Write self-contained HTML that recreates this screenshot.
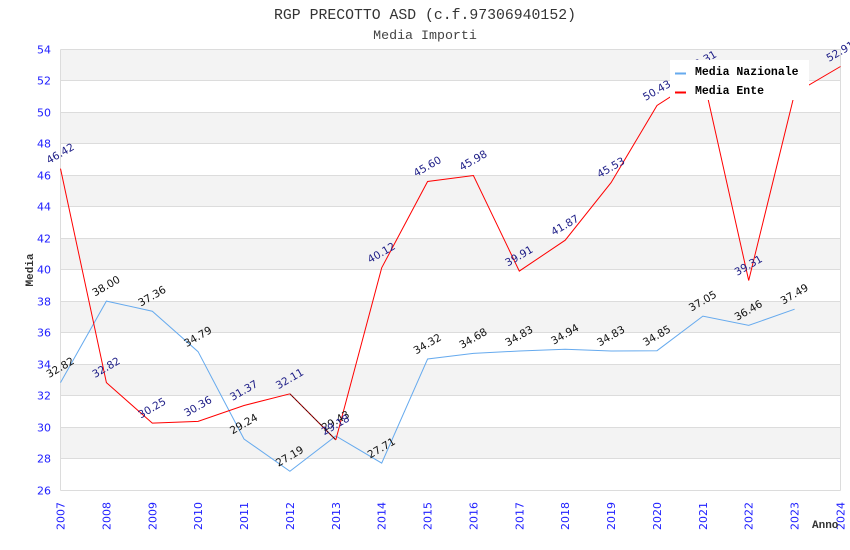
<!DOCTYPE html>
<html><head><meta charset="utf-8">
<style>
html,body{margin:0;padding:0;background:#fff;}
svg{display:block;}
.tk{font-family:"DejaVu Sans","Liberation Sans",sans-serif;font-size:11px;fill:#2020ff;}
.ln{font-family:"DejaVu Sans","Liberation Sans",sans-serif;font-size:10.5px;fill:#111;}
.le{font-family:"DejaVu Sans","Liberation Sans",sans-serif;font-size:10.5px;fill:#1c1c86;}
.mono{font-family:"Liberation Mono","DejaVu Sans Mono",monospace;}
</style></head>
<body>
<svg width="850" height="550" viewBox="0 0 850 550" xmlns="http://www.w3.org/2000/svg">
<rect width="850" height="550" fill="#fff"/>
<text x="425" y="19" text-anchor="middle" class="mono" font-size="14.8" fill="#333">RGP PRECOTTO ASD (c.f.97306940152)</text>
<text x="425" y="39" text-anchor="middle" class="mono" font-size="13.3" fill="#444">Media Importi</text>

<g fill="#f3f3f3">
<rect x="60.5" y="49.5" width="780" height="31"/>
<rect x="60.5" y="112.5" width="780" height="31"/>
<rect x="60.5" y="175.5" width="780" height="31"/>
<rect x="60.5" y="238.5" width="780" height="31"/>
<rect x="60.5" y="301.5" width="780" height="31"/>
<rect x="60.5" y="364.5" width="780" height="31"/>
<rect x="60.5" y="427.5" width="780" height="31"/>
</g>
<g stroke="#dcdcdc" stroke-width="1" shape-rendering="crispEdges">
<line x1="60.5" x2="840.5" y1="49.5" y2="49.5"/>
<line x1="60.5" x2="840.5" y1="80.5" y2="80.5"/>
<line x1="60.5" x2="840.5" y1="112.5" y2="112.5"/>
<line x1="60.5" x2="840.5" y1="143.5" y2="143.5"/>
<line x1="60.5" x2="840.5" y1="175.5" y2="175.5"/>
<line x1="60.5" x2="840.5" y1="206.5" y2="206.5"/>
<line x1="60.5" x2="840.5" y1="238.5" y2="238.5"/>
<line x1="60.5" x2="840.5" y1="269.5" y2="269.5"/>
<line x1="60.5" x2="840.5" y1="301.5" y2="301.5"/>
<line x1="60.5" x2="840.5" y1="332.5" y2="332.5"/>
<line x1="60.5" x2="840.5" y1="364.5" y2="364.5"/>
<line x1="60.5" x2="840.5" y1="395.5" y2="395.5"/>
<line x1="60.5" x2="840.5" y1="427.5" y2="427.5"/>
<line x1="60.5" x2="840.5" y1="458.5" y2="458.5"/>
<line x1="60.5" x2="840.5" y1="490.5" y2="490.5"/>
<line x1="60.5" x2="60.5" y1="49.5" y2="490.5"/>
<line x1="840.5" x2="840.5" y1="49.5" y2="490.5"/>
</g>

<g class="tk" text-anchor="end">
<text x="51" y="53.5">54</text>
<text x="51" y="84.5">52</text>
<text x="51" y="116.5">50</text>
<text x="51" y="147.5">48</text>
<text x="51" y="179.5">46</text>
<text x="51" y="210.5">44</text>
<text x="51" y="242.5">42</text>
<text x="51" y="273.5">40</text>
<text x="51" y="305.5">38</text>
<text x="51" y="336.5">36</text>
<text x="51" y="368.5">34</text>
<text x="51" y="399.5">32</text>
<text x="51" y="431.5">30</text>
<text x="51" y="462.5">28</text>
<text x="51" y="494.5">26</text>
</g>

<g class="tk" text-anchor="end">
<text transform="translate(64.5,502) rotate(-90)">2007</text>
<text transform="translate(110.4,502) rotate(-90)">2008</text>
<text transform="translate(156.3,502) rotate(-90)">2009</text>
<text transform="translate(202.1,502) rotate(-90)">2010</text>
<text transform="translate(248,502) rotate(-90)">2011</text>
<text transform="translate(293.9,502) rotate(-90)">2012</text>
<text transform="translate(339.8,502) rotate(-90)">2013</text>
<text transform="translate(385.7,502) rotate(-90)">2014</text>
<text transform="translate(431.6,502) rotate(-90)">2015</text>
<text transform="translate(477.4,502) rotate(-90)">2016</text>
<text transform="translate(523.3,502) rotate(-90)">2017</text>
<text transform="translate(569.2,502) rotate(-90)">2018</text>
<text transform="translate(615.1,502) rotate(-90)">2019</text>
<text transform="translate(661,502) rotate(-90)">2020</text>
<text transform="translate(706.9,502) rotate(-90)">2021</text>
<text transform="translate(752.7,502) rotate(-90)">2022</text>
<text transform="translate(798.6,502) rotate(-90)">2023</text>
<text transform="translate(844.5,502) rotate(-90)">2024</text>
</g>

<text transform="translate(33,270) rotate(-90)" text-anchor="middle" class="mono" font-size="11" font-weight="bold" fill="#333">Media</text>
<text x="812" y="528" class="mono" font-size="11" font-weight="bold" fill="#333">Anno</text>

<polyline fill="none" stroke="#66aaee" stroke-width="1" points="60.5,382.6 106.4,301.1 152.3,311.2 198.1,351.7 244,439 289.9,471.3 335.8,436 381.7,463.1 427.6,359 473.4,353.4 519.3,351 565.2,349.3 611.1,351 657,350.7 702.9,316.1 748.7,325.4 794.6,309.2"/>

<polyline fill="none" stroke="#ff0000" stroke-width="1" points="60.5,168.6 106.4,382.6 152.3,423.1 198.1,421.4 244,405.5 289.9,393.8"/>
<line x1="289.9" y1="393.8" x2="335.8" y2="439.9" stroke="#000" stroke-width="1"/>
<line x1="289.9" y1="393.8" x2="335.8" y2="439.9" stroke="#ff0000" stroke-width="1" stroke-dasharray="1 1"/>
<polyline fill="none" stroke="#ff0000" stroke-width="1" points="335.8,439.9 381.7,267.8 427.6,181.5 473.4,175.5 519.3,271.1 565.2,240.2 611.1,182.6 657,105.5 702.9,75.9 748.7,280.5 794.6,93.4 840.5,66.5"/>

<g class="ln" text-anchor="middle">
<text transform="translate(62,370.6) rotate(-30)">32.82</text>
<text transform="translate(107.9,289.1) rotate(-30)">38.00</text>
<text transform="translate(153.8,299.2) rotate(-30)">37.36</text>
<text transform="translate(199.6,339.7) rotate(-30)">34.79</text>
<text transform="translate(245.5,427) rotate(-30)">29.24</text>
<text transform="translate(291.4,459.3) rotate(-30)">27.19</text>
<text transform="translate(337.3,424) rotate(-30)">29.43</text>
<text transform="translate(383.2,451.1) rotate(-30)">27.71</text>
<text transform="translate(429.1,347) rotate(-30)">34.32</text>
<text transform="translate(474.9,341.4) rotate(-30)">34.68</text>
<text transform="translate(520.8,339) rotate(-30)">34.83</text>
<text transform="translate(566.7,337.3) rotate(-30)">34.94</text>
<text transform="translate(612.6,339) rotate(-30)">34.83</text>
<text transform="translate(658.5,338.7) rotate(-30)">34.85</text>
<text transform="translate(704.4,304.1) rotate(-30)">37.05</text>
<text transform="translate(750.2,313.4) rotate(-30)">36.46</text>
<text transform="translate(796.1,297.2) rotate(-30)">37.49</text>
</g>

<g class="le" text-anchor="middle">
<text transform="translate(62,156.6) rotate(-30)">46.42</text>
<text transform="translate(107.9,370.6) rotate(-30)">32.82</text>
<text transform="translate(153.8,411.1) rotate(-30)">30.25</text>
<text transform="translate(199.6,409.4) rotate(-30)">30.36</text>
<text transform="translate(245.5,393.5) rotate(-30)">31.37</text>
<text transform="translate(291.4,381.8) rotate(-30)">32.11</text>
<text transform="translate(337.3,427.9) rotate(-30)">29.18</text>
<text transform="translate(383.2,255.8) rotate(-30)">40.12</text>
<text transform="translate(429.1,169.5) rotate(-30)">45.60</text>
<text transform="translate(474.9,163.5) rotate(-30)">45.98</text>
<text transform="translate(520.8,259.1) rotate(-30)">39.91</text>
<text transform="translate(566.7,228.2) rotate(-30)">41.87</text>
<text transform="translate(612.6,170.6) rotate(-30)">45.53</text>
<text transform="translate(658.5,93.5) rotate(-30)">50.43</text>
<text transform="translate(704.4,63.9) rotate(-30)">52.31</text>
<text transform="translate(750.2,268.5) rotate(-30)">39.31</text>
<text transform="translate(796.1,81.4) rotate(-30)">51.20</text>
<text transform="translate(842,54.5) rotate(-30)">52.91</text>
</g>

<rect x="670" y="60" width="139" height="40" fill="#fff"/>
<rect x="675" y="72.5" width="11" height="2" fill="#66aaee"/>
<rect x="675" y="91.5" width="11" height="2" fill="#ff0000"/>
<text x="695" y="75" class="mono" font-size="11.5" font-weight="bold" fill="#000">Media Nazionale</text>
<text x="695" y="94" class="mono" font-size="11.5" font-weight="bold" fill="#000">Media Ente</text>
</svg>
</body></html>
